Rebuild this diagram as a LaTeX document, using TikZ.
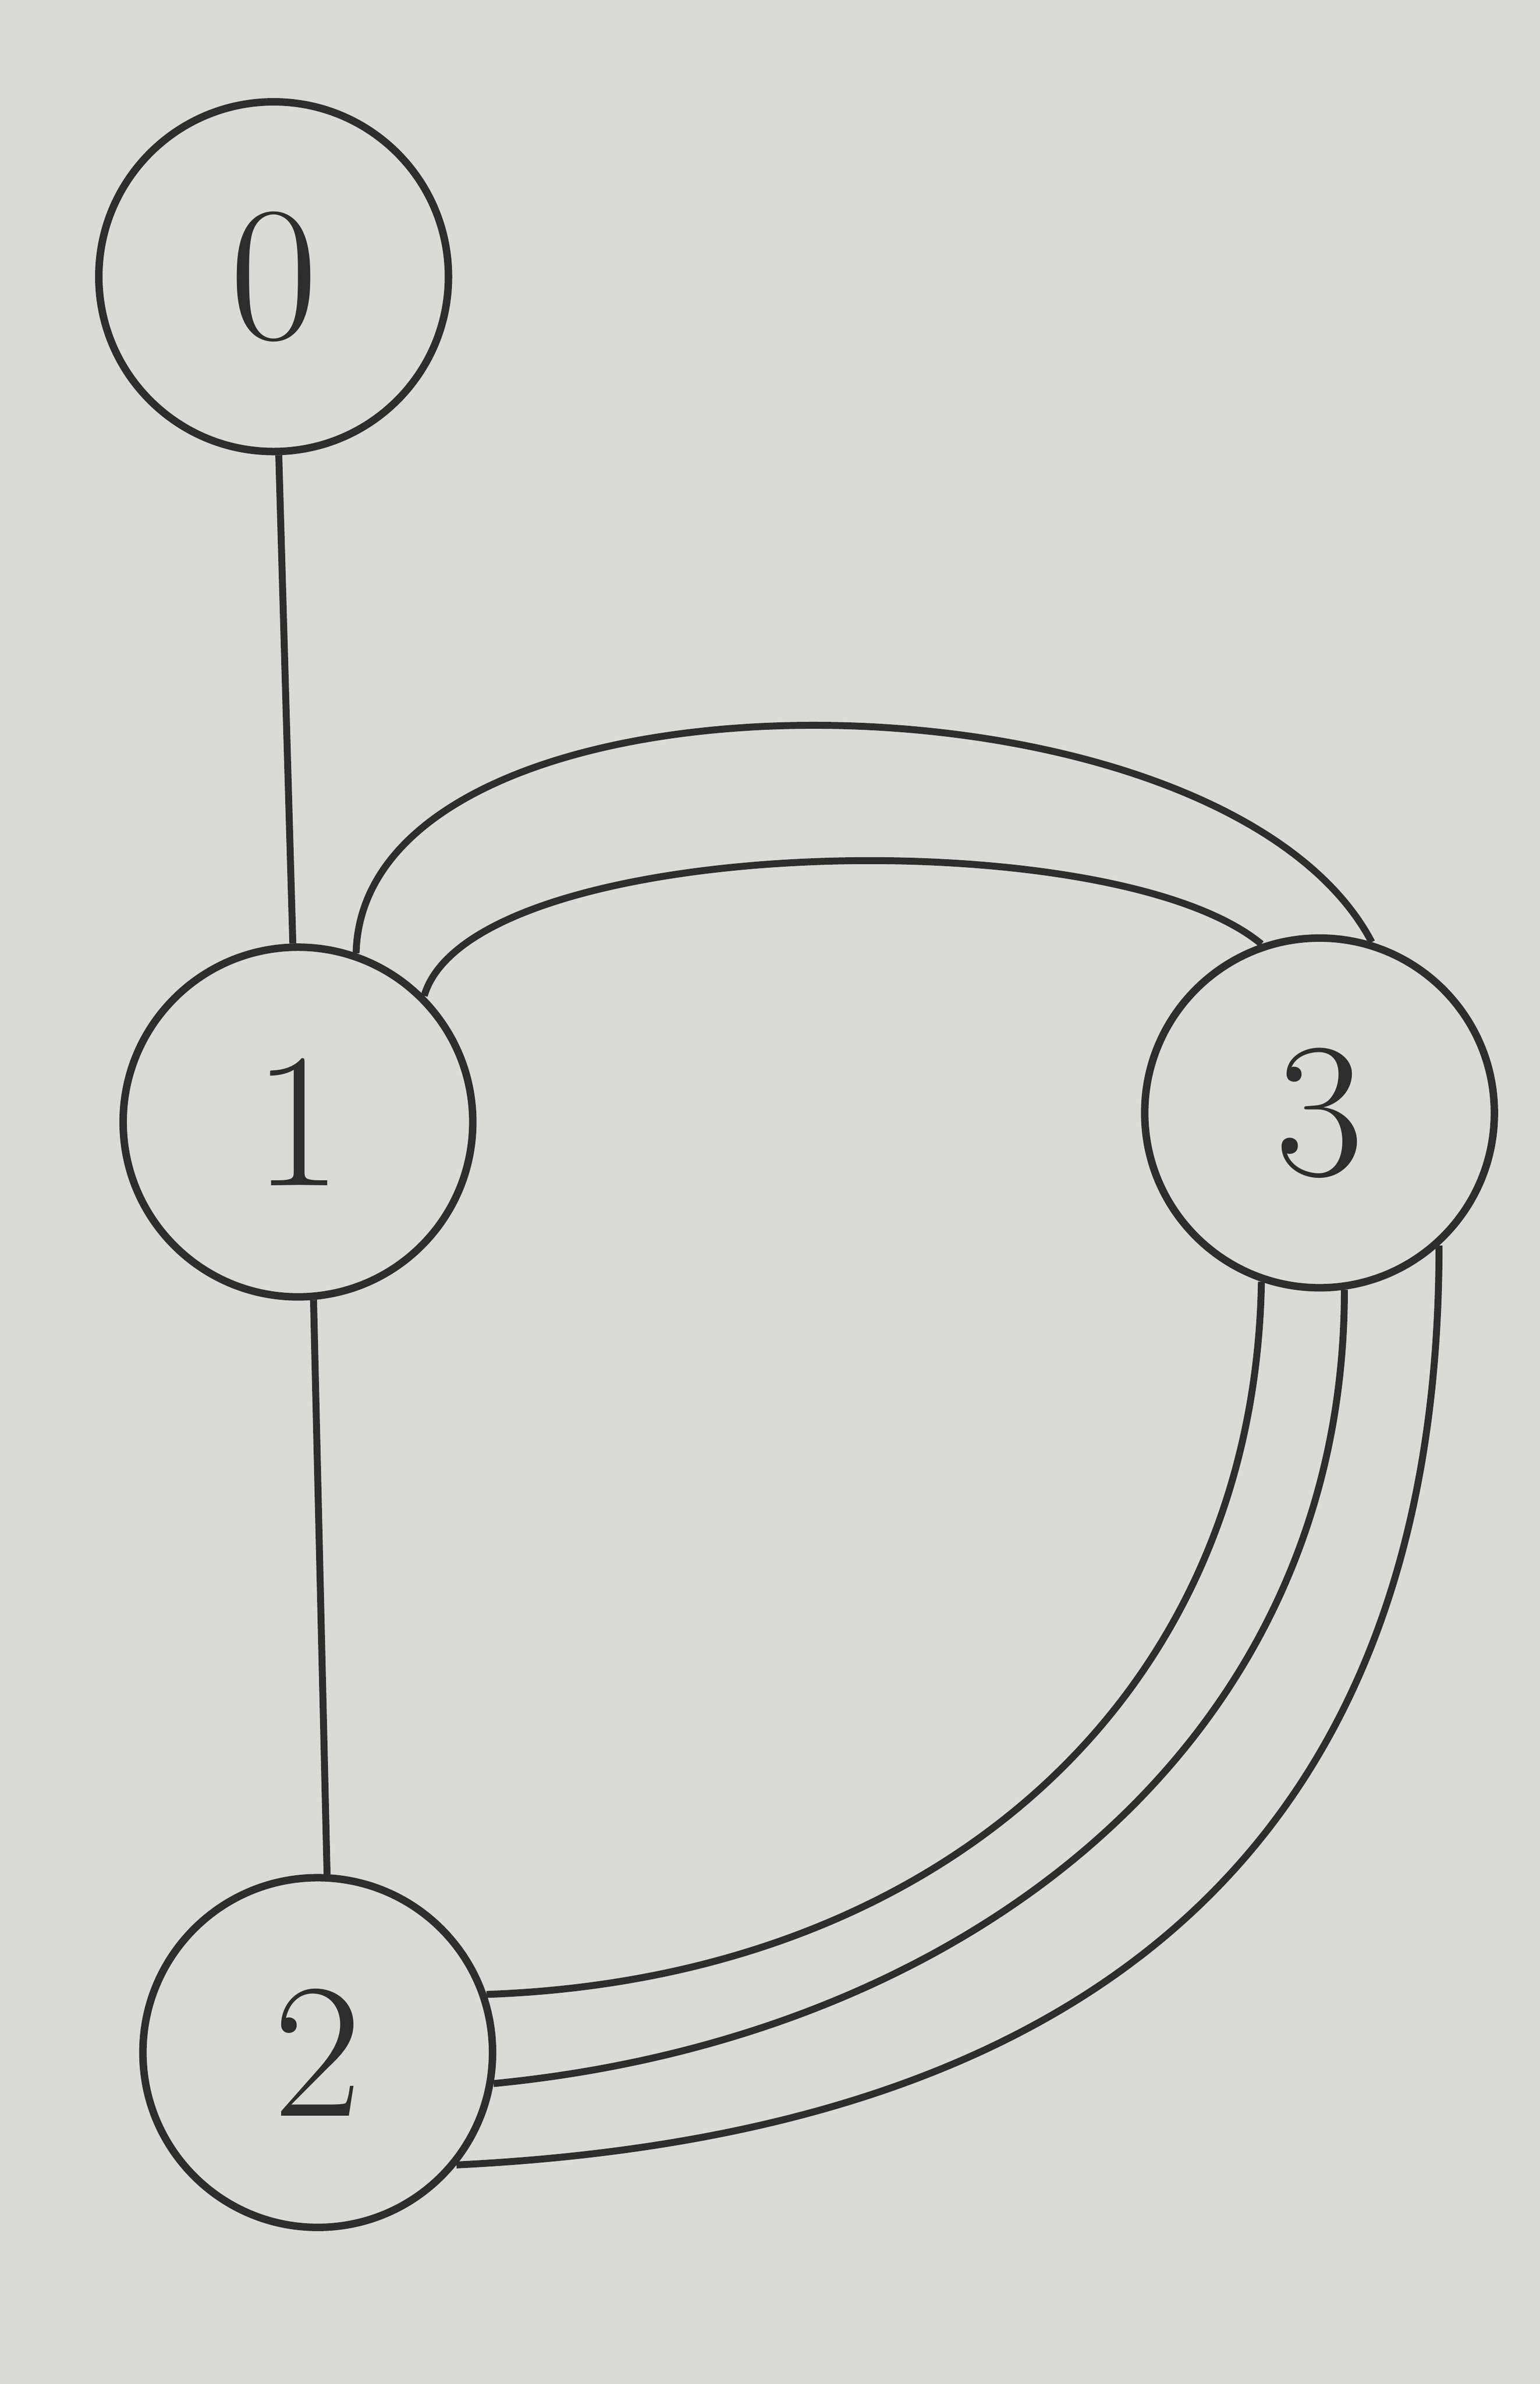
\documentclass[tikz,border=0pt]{standalone}
\usepackage{tikz}
\definecolor{paper}{RGB}{219,219,213}
\definecolor{ink}{RGB}{45,45,45}

\begin{document}
\begin{tikzpicture}[vertex/.style = {draw = ink, circle, line width = 1.4pt, minimum size = 2.3cm, inner sep = 0pt, font = \fontsize{36}{40}\selectfont, text = ink}, edge/.style = {draw = ink, line width = 1.3pt}]
			%\draw [help lines] (0,0) grid (10,15);
			\fill [paper] (0,0) rectangle (10.13,15.68);
			\useasboundingbox (0,0) rectangle (10.13,15.68);
			\node [vertex] (n0) at (1.80,13.86) {0};
			\node [vertex] (n1) at (1.96,8.30) {1};
			\node [vertex] (n3) at (8.68,8.36) {3};
			\node [vertex] (n2) at (2.09,2.18) {2};
			\draw [edge] (n0) -- (n1);
			\draw [edge] (n1.-85) -- (n2.87);
			\draw [edge] (n1.71) .. controls +(0.05,2.0) and +(-1.0,1.9) .. (n3.73);
			\draw [edge] (n1.45) .. controls +(0.31,1.06) and +(-1.0,0.83) .. (n3.109);
			\draw [edge] (n3.-109) .. controls +(-0.05,-2.8) and +(2.9,0.1) .. (n2.19);
			\draw [edge] (n3.-82) .. controls +(0,-3.0) and +(3.1,0.3) .. (n2.-10);
			\draw [edge] (n3.-48) .. controls +(0,-4.0) and +(4.1,0.2) .. (n2.-39);
	\end{tikzpicture}
\end{document}
